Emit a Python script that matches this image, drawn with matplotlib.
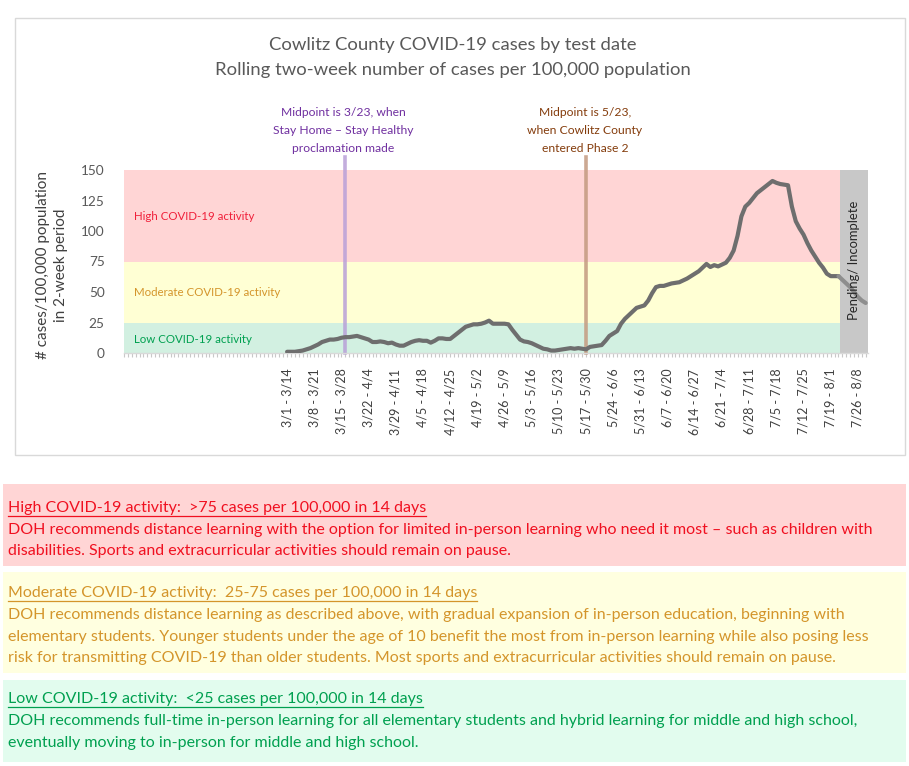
import matplotlib
matplotlib.use("Agg")
import matplotlib.pyplot as plt
from matplotlib.patches import Rectangle
from matplotlib.lines import Line2D

W, H = 909, 766
FONT = ["Lato", "DejaVu Sans"]
plt.rcParams["font.family"] = FONT

# ---------------- data ----------------
# day index 0 = window "3/1 - 3/14"; one value per daily 14-day window
cases = [1, 1, 1, 1.5, 2, 3, 4, 5.5, 7, 9,
         10, 11, 11, 11.5, 12.5, 13, 13, 13.5, 14, 13,
         12, 11, 9, 9, 9.5, 9, 8, 8.5, 7, 6,
         6, 7.5, 9, 10, 10.5, 10, 10, 8.5, 10, 12,
         12, 11.5, 11.5, 14, 16.5, 19, 21.5, 22.5, 23.5, 23.5,
         24, 25, 26.5, 24, 24, 24, 24, 23.5, 19, 15,
         11, 9.5, 9, 8, 6.5, 5, 3.5, 3, 2, 2,
         2.5, 3, 3.5, 4, 3.5, 4, 3.5, 3, 5, 5.5,
         6, 6.5, 10, 14, 16, 18, 24, 28, 31, 34,
         37, 38, 39, 43, 49, 54, 55, 55, 56, 57,
         57.5, 58, 59.5, 61, 63, 65, 67, 70, 73, 70.5,
         72, 71, 72.5, 74, 78, 84, 96, 112, 120, 123,
         127, 131, 133.5, 136, 138.5, 141, 139.5, 138.5, 138, 137.5,
         120, 108, 102, 97, 90, 84, 79, 74, 70, 65,
         63, 63, 63, 60, 57, 54, 50, 46, 43, 41]

week_labels = ["3/1 - 3/14", "3/8 - 3/21", "3/15 - 3/28", "3/22 - 4/4",
               "3/29 - 4/11", "4/5 - 4/18", "4/12 - 4/25", "4/19 - 5/2",
               "4/26 - 5/9", "5/3 - 5/16", "5/10 - 5/23", "5/17 - 5/30",
               "5/24 - 6/6", "5/31 - 6/13", "6/7 - 6/20", "6/14 - 6/27",
               "6/21 - 7/4", "6/28 - 7/11", "7/5 - 7/18", "7/12 - 7/25",
               "7/19 - 8/1", "7/26 - 8/8"]

band_edges = [0, 25, 75, 150]
band_names = ["Low COVID-19 activity", "Moderate COVID-19 activity", "High COVID-19 activity"]
event_days = [15, 77]
event_texts = ["Midpoint is 3/23, when\nStay Home \u2013 Stay Healthy\nproclamation made",
               "Midpoint is 5/23,\nwhen Cowlitz County\nentered Phase 2"]
pending_from_day = 142.5

title_lines = ["Cowlitz County COVID-19 cases by test date",
               "Rolling two-week number of cases per 100,000 population"]

box_headings = ["High COVID-19 activity:  >75 cases per 100,000 in 14 days",
                "Moderate COVID-19 activity:  25-75 cases per 100,000 in 14 days",
                "Low COVID-19 activity:  <25 cases per 100,000 in 14 days"]
box_bodies = [
    ["DOH recommends distance learning with the option for limited in-person learning who need it most \u2013 such as children with",
     "disabilities. Sports and extracurricular activities should remain on pause."],
    ["DOH recommends distance learning as described above, with gradual expansion of in-person education, beginning with",
     "elementary students. Younger students under the age of 10 benefit the most from in-person learning while also posing less",
     "risk for transmitting COVID-19 than older students. Most sports and extracurricular activities should remain on pause."],
    ["DOH recommends full-time in-person learning for all elementary students and hybrid learning for middle and high school,",
     "eventually moving to in-person for middle and high school."],
]

# ---------------- styles ----------------
band_colors = ["#D2F0E1", "#FFFFD4", "#FFD5D5"]
band_text_colors = ["#00A050", "#D4952B", "#F0203A"]
event_line_colors = ["#B9A0D8", "#C49A80"]
event_text_colors = ["#7030A0", "#843C0C"]
box_bg = ["#FFD5D5", "#FFFFE0", "#E2FCEE"]
box_fg = ["#F01020", "#D4952B", "#00A050"]
GRAY_TXT = "#595959"


def fx(x):
    return x / W


def fy(y):
    return 1 - y / H


fig = plt.figure(figsize=(W / 100, H / 100), dpi=100)
fig.patch.set_facecolor("white")
renderer = fig.canvas.get_renderer()

# chart border
fig.add_artist(Rectangle((fx(15), fy(455)), (905 - 15) / W, (455 - 18) / H,
                         transform=fig.transFigure, fill=False,
                         edgecolor="#D9D9D9", lw=1))

x_left, x_right = -42, 149.6
ax = fig.add_axes([fx(124), fy(353), (868 - 124) / W, (353 - 170) / H])
ax.set_xlim(x_left, x_right)
ax.set_ylim(0, 150)

# bands
for lo, hi, c in zip(band_edges[:-1], band_edges[1:], band_colors):
    ax.add_patch(Rectangle((x_left, lo), pending_from_day - x_left, hi - lo,
                           facecolor=c, edgecolor="none", zorder=0))
ax.text(-39.5, 112, band_names[2], color=band_text_colors[2], fontsize=8.3, va="center", ha="left")
ax.text(-39.5, 50, band_names[1], color=band_text_colors[1], fontsize=8.3, va="center", ha="left")
ax.text(-39.5, 11, band_names[0], color=band_text_colors[0], fontsize=8.3, va="center", ha="left")

# pending region
ax.add_patch(Rectangle((pending_from_day, 0), x_right - pending_from_day, 150,
                       facecolor="#C8C8C8", edgecolor="none", zorder=0.5))
ax.text((pending_from_day + x_right) / 2, 76, "Pending/ Incomplete", rotation=90,
        ha="center", va="center", fontsize=9.4, color="#262626", zorder=4)

# event lines
for d, lc in zip(event_days, event_line_colors):
    ax.add_line(Line2D([d, d], [0, 161], color=lc, lw=2.6, alpha=0.85,
                       zorder=2, clip_on=False))

# data line
days = list(range(len(cases)))
n_main = int(pending_from_day) + 1
ax.plot(days[:n_main], cases[:n_main], color="#6E6E6E", lw=3, zorder=3,
        solid_joinstyle="round", solid_capstyle="round")
ax.plot(days[n_main - 1:], cases[n_main - 1:], color="#8E8E8E", lw=3, zorder=3,
        solid_joinstyle="round", solid_capstyle="round")

# axes styling
for s in ["top", "right", "left"]:
    ax.spines[s].set_visible(False)
ax.spines["bottom"].set_color("#D9D9D9")
ax.spines["bottom"].set_linewidth(1)
ax.set_yticks([0, 25, 50, 75, 100, 125, 150])
ax.tick_params(axis="y", length=0, pad=14, labelsize=9.8, labelcolor=GRAY_TXT)
ax.set_xticks([7 * i for i in range(len(week_labels))])
ax.set_xticklabels(week_labels, rotation=90, va="top", ha="center")
ax.set_xticks(list(range(-42, 150)), minor=True)
ax.tick_params(axis="x", which="both", length=3.2, width=0.8, color="#C8C8C8")
ax.tick_params(axis="x", which="major", pad=8, labelsize=9, labelcolor="#404040")
ax.set_facecolor("none")

# y label
fig.text(fx(52), fy(265), "# cases/100,000 population\nin 2-week period",
         rotation=90, ha="center", va="center", fontsize=11, color="#404040",
         linespacing=1.45)


def fit_size(text, target_px, base=10.0):
    t = fig.text(0, 0, text, fontsize=base)
    w = t.get_window_extent(renderer).width
    t.remove()
    return base * target_px / w


# title
ts = fit_size(title_lines[1], 476)
fig.text(fx(453), fy(45), title_lines[0], ha="center", va="center", fontsize=ts, color=GRAY_TXT)
fig.text(fx(453), fy(70), title_lines[1], ha="center", va="center", fontsize=ts, color=GRAY_TXT)

# event annotations
ann_centers = [343, 585]
for cx, txt, tc in zip(ann_centers, event_texts, event_text_colors):
    for j, line in enumerate(txt.split("\n")):
        fig.text(fx(cx), fy(113 + 18 * j), line, ha="center", va="center",
                 fontsize=8.7, color=tc)

# bottom boxes
box_rects = [(484, 566), (572, 673), (680, 762)]
heading_y = [508, 593, 699]
fs = min(fit_size(box_bodies[0][0], 866), fit_size(box_bodies[1][1], 880),
         fit_size(box_bodies[1][0], 880))
for k in range(3):
    y0, y1 = box_rects[k]
    fig.add_artist(Rectangle((fx(3), fy(y1)), (906 - 3) / W, (y1 - y0) / H,
                             transform=fig.transFigure, facecolor=box_bg[k],
                             edgecolor="none", zorder=0))
    ht = fig.text(fx(8), fy(heading_y[k]), box_headings[k], ha="left", va="center",
                  fontsize=fs, color=box_fg[k])
    bb = ht.get_window_extent(renderer)
    uy = bb.y0 - 0.5
    fig.add_artist(Line2D([bb.x0 / W, bb.x1 / W], [uy / H, uy / H],
                          transform=fig.transFigure, color=box_fg[k], lw=0.9))
    for j, line in enumerate(box_bodies[k]):
        fig.text(fx(8), fy(heading_y[k] + 22 + 21.5 * j), line, ha="left", va="center",
                 fontsize=fs, color=box_fg[k])

fig.savefig("out.png", dpi=100)
